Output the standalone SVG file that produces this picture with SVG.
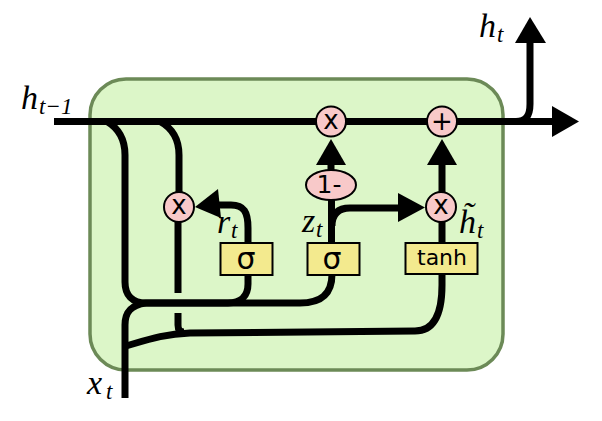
<svg xmlns="http://www.w3.org/2000/svg" width="602" height="421" viewBox="0 0 602 421">
<defs>
<style>
.ln{fill:none;stroke:#000;stroke-width:7}
.ah{fill:#000;stroke:none}
.op{fill:#f8c9c9;stroke:#000;stroke-width:2}
.lay{fill:#f3ea8e;stroke:#000;stroke-width:2}
.t{font-family:"DejaVu Sans",sans-serif;fill:#000;text-anchor:middle}
.m{font-family:"Liberation Serif",serif;font-style:italic;fill:#000}
.b{font-size:34px}
.s{font-size:23px}
</style>
</defs>
<rect width="602" height="421" fill="#fff"/>
<rect id="cell" x="90" y="79" width="413" height="291" rx="36" ry="36" fill="#dcf6c8" stroke="#6c8a57" stroke-width="3.5"/>
<g id="connectors">
<path class="ln" d="M54 121.500H555"/>
<path class="ln" d="M508 121.500H516C526 121.500 530 116 530 104V40"/>
<path class="ln" d="M107 121.500C118 128 125 138 125 155V282C125 295 132 303 146 303H228C241 303 248 296 248 284V272"/>
<path class="ln" d="M248 244V228C248 212 244 205 231 205H212"/>
<path class="ln" d="M160 121.500C172 128 179 138 179 155V192"/>
<path class="ln" d="M178 222V293"/>
<path class="ln" d="M178 313V325C178 330 180 332 184 332"/>
<path class="ln" d="M125 398V325C125 313 130 305 146 303H300C320 303 332 295 332 274"/>
<path class="ln" d="M126 346C150 339 165 334 190 333L415 331C432 331 442 318 442 285V274"/>
<path class="ln" d="M331.500 244V199"/>
<path class="ln" d="M332 226C332 214 338 208 350 208H400"/>
<path class="ln" d="M331 172V160"/>
<path class="ln" d="M442 192V160"/>
<path class="ln" d="M442 244V222"/>
<path class="ah" d="M552 106L579 121.500L552 137Z"/>
<path class="ah" d="M515 43L530 17L546 43Z"/>
<path class="ah" d="M316 165L331 139L346 165Z"/>
<path class="ah" d="M427 165L442 139L457 165Z"/>
<path class="ah" d="M398 193L425 207.500L398 222Z"/>
<path class="ah" d="M195 207L218 189L221 218Z"/>
</g>
<g id="mul-forget"><circle class="op" cx="179" cy="207" r="15"/><text class="t" x="179" y="214" font-size="26">x</text></g>
<g id="mul-reset"><circle class="op" cx="331" cy="121.500" r="15"/><text class="t" x="331" y="128.500" font-size="26">x</text></g>
<g id="add"><circle class="op" cx="442" cy="121.500" r="15"/><text class="t" x="442" y="130" font-size="26">+</text></g>
<g id="mul-new"><circle class="op" cx="441" cy="207" r="15"/><text class="t" x="441" y="214" font-size="26">x</text></g>
<g id="one-minus"><ellipse class="op" cx="331" cy="185" rx="25" ry="15"/><text class="t" x="329" y="193" font-size="25">1-</text></g>
<g id="sigma-r"><rect class="lay" x="220.500" y="243" width="52" height="32"/><text class="t" x="246" y="269" font-size="30">σ</text></g>
<g id="sigma-z"><rect class="lay" x="307.500" y="243" width="52" height="32"/><text class="t" x="332" y="269" font-size="30">σ</text></g>
<g id="tanh"><rect class="lay" x="405.500" y="243" width="72" height="31"/><text class="t" x="442" y="265" font-size="22">tanh</text></g>
<g id="labels">
<text class="m b" x="21" y="109">h</text><text class="m s" x="39" y="114">t−1</text>
<text class="m b" x="479" y="37">h</text><text class="m s" x="497" y="42">t</text>
<text class="m b" x="87" y="394">x</text><text class="m s" x="106" y="399">t</text>
<text class="m b" x="217" y="233">r</text><text class="m s" x="231" y="238">t</text>
<text class="m b" x="302" y="232">z</text><text class="m s" x="316" y="237">t</text>
<text class="m b" x="459" y="233">h̃</text><text class="m s" x="477" y="238">t</text>
</g>
</svg>
